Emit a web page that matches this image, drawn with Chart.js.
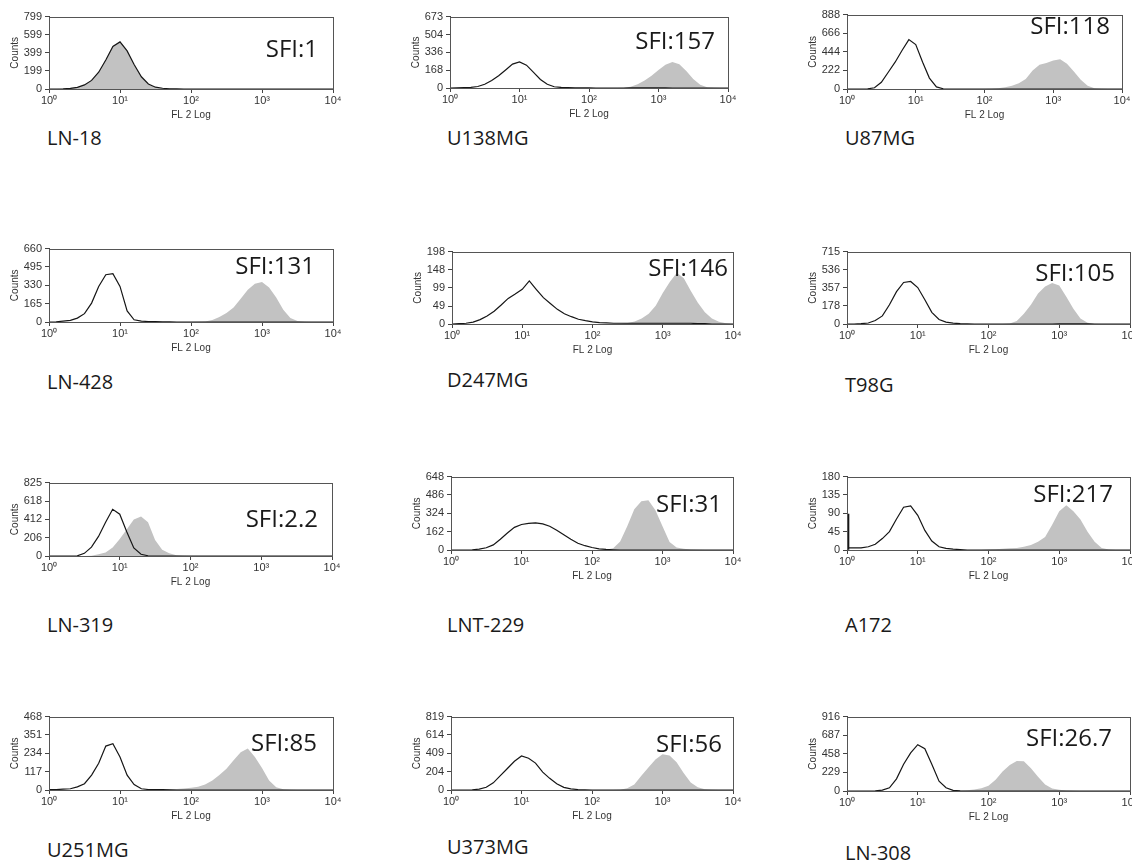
<!DOCTYPE html>
<html>
<head>
<meta charset="utf-8">
<script src="https://cdn.jsdelivr.net/npm/chart.js@4.4.1/dist/chart.umd.min.js"></script>
<style>
    html, body { margin: 0; padding: 0; background: #fff; }
    body { position: relative; width: 1132px; height: 866px; overflow: hidden; }
    canvas { position: absolute; }
    .sfi { position: absolute; font-family: 'Open Sans', sans-serif; font-size: 24px; color: #1a1a1a;
           white-space: nowrap; line-height: 1; transform: translate(-100%, -50%); }
    .cell { position: absolute; font-family: 'Open Sans', sans-serif; font-size: 20px; color: #1a1a1a;
            white-space: nowrap; line-height: 1; transform: translateY(-50%); }
</style>
</head>
<body>
<script>
// FL2 channel bins, 10 per decade, 10^0 .. 10^4
var fl2Bins = [1, 1.26, 1.58, 2, 2.51, 3.16, 3.98, 5.01, 6.31, 7.94,
    10, 12.6, 15.8, 20, 25.1, 31.6, 39.8, 50.1, 63.1, 79.4,
    100, 126, 158, 200, 251, 316, 398, 501, 631, 794,
    1000, 1259, 1585, 1995, 2512, 3162, 3981, 5012, 6310, 7943,
    10000];
var xTickValues = [1, 10, 100, 1000, 10000];
var xTickLabels = ['10⁰', '10¹', '10²', '10³', '10⁴'];

var cellLines = ['LN-18', 'U138MG', 'U87MG', 'LN-428', 'D247MG', 'T98G',
    'LN-319', 'LNT-229', 'A172', 'U251MG', 'U373MG', 'LN-308'];
var sfiLabels = ['SFI:1', 'SFI:157', 'SFI:118', 'SFI:131', 'SFI:146', 'SFI:105',
    'SFI:2.2', 'SFI:31', 'SFI:217', 'SFI:85', 'SFI:56', 'SFI:26.7'];
var yMaxValues = [799, 673, 888, 660, 198, 715, 825, 648, 180, 468, 819, 916];
var yTickValues = [
    [0, 199, 399, 599, 799], [0, 168, 336, 504, 673], [0, 222, 444, 666, 888],
    [0, 165, 330, 495, 660], [0, 49, 99, 148, 198], [0, 178, 357, 536, 715],
    [0, 206, 412, 618, 825], [0, 162, 324, 486, 648], [0, 45, 90, 135, 180],
    [0, 117, 234, 351, 468], [0, 204, 409, 614, 819], [0, 229, 458, 687, 916]
];
// events piled up in the very first channel (control tube)
var firstChannelCounts = [0, 0, 0, 0, 0, 0, 0, 0, 88, 0, 0, 0];

// counts per bin: control (open line) and stained (grey fill)
var ln18Control = [0,0,2,6,18,45,95,185,320,470, 520,420,270,135,55,20,8,3,1,0, 0,0,0,0,0,0,0,0,0,0, 0,0,0,0,0,0,0,0,0,0, 0];
var ln18Stained = [0,0,2,7,20,48,98,190,325,475, 525,425,268,132,52,18,7,3,1,0, 0,0,0,0,0,0,0,0,0,0, 0,0,0,0,0,0,0,0,0,0, 0];
var u138Control = [0,1,3,6,14,35,70,115,170,225, 245,215,150,80,35,12,5,3,2,1, 1,0,0,0,0,0,1,2,2,2, 2,1,0,0,0,0,0,0,0,0, 0];
var u138Stained = [0,0,0,0,0,0,0,0,0,0, 0,0,0,0,0,0,0,0,0,0, 0,0,0,0,0,3,12,35,70,115, 170,220,245,225,160,85,30,8,2,0, 0];
var u87Control = [0,0,0,2,15,80,200,320,460,590, 530,320,130,25,3,0,0,0,0,0, 0,0,0,0,0,0,0,0,0,0, 0,0,0,0,0,0,0,0,0,0, 0];
var u87Stained = [0,0,0,0,0,0,0,0,0,0, 0,0,0,0,0,0,0,0,0,0, 1,3,8,20,40,70,120,220,290,310, 340,355,300,210,110,40,10,2,0,0, 0];
var ln428Control = [0,2,8,15,35,75,170,320,425,435, 320,100,20,8,4,3,2,1,0,0, 0,0,0,0,0,0,0,0,0,0, 0,0,0,0,0,0,0,0,0,0, 0];
var ln428Stained = [0,0,0,0,0,0,0,0,0,0, 0,0,0,0,0,0,0,0,0,0, 0,2,5,18,45,80,130,210,290,345, 360,310,220,110,35,8,2,0,0,0, 0];
var d247Control = [0,1,2,5,12,22,35,52,70,82, 95,118,95,72,56,40,28,20,13,9, 6,4,3,2,2,2,2,2,2,2, 2,2,2,2,2,1,1,0,0,0, 0];
var d247Stained = [0,0,0,0,0,0,0,0,0,0, 0,0,0,0,0,0,0,0,0,0, 0,0,0,0,1,3,7,15,28,50, 85,115,140,125,90,58,32,15,6,2, 0];
var t98Control = [0,0,3,10,35,80,190,320,410,420, 360,240,115,45,18,8,3,1,0,0, 0,0,0,0,0,0,0,0,0,0, 2,2,2,2,1,0,0,0,0,0, 0];
var t98Stained = [0,0,0,0,0,0,0,0,0,0, 0,0,0,0,0,0,0,0,0,0, 0,0,0,5,30,100,190,300,370,405, 380,270,150,55,12,3,0,0,0,0, 0];
var ln319Control = [0,0,0,0,2,30,100,220,380,525, 470,270,90,20,3,0,0,0,0,0, 0,0,0,0,0,0,0,0,0,0, 0,0,0,0,0,0,0,0,0,0, 0];
var ln319Stained = [0,0,0,0,0,0,3,20,40,95, 190,300,410,445,380,180,70,30,8,2, 0,0,0,0,0,0,0,0,0,0, 0,0,0,0,0,0,0,0,0,0, 0];
var lnt229Control = [0,0,0,2,8,20,45,95,150,200, 225,235,240,230,210,175,135,95,60,38, 22,10,5,2,0,0,0,0,0,0, 0,0,0,0,0,0,0,0,0,0, 0];
var lnt229Stained = [0,0,0,0,0,0,0,0,0,0, 0,0,0,0,0,0,0,0,0,0, 0,0,2,15,75,210,360,430,440,350, 210,70,22,12,5,2,0,0,0,0, 0];
var a172Control = [5,5,5,8,14,28,45,76,105,108, 85,48,22,8,4,2,1,0,0,0, 0,0,0,0,0,0,0,0,0,0, 0,0,0,0,0,0,0,0,0,0, 0];
var a172Stained = [0,0,0,0,0,0,0,0,0,0, 0,0,0,0,0,0,0,0,0,0, 1,2,3,4,5,8,12,20,32,62, 95,110,95,75,45,20,5,1,0,0, 0];
var u251Control = [3,3,5,8,20,40,95,170,280,295, 210,95,35,8,3,2,2,1,0,0, 0,0,0,0,0,0,0,0,0,0, 0,0,0,0,0,0,0,0,0,0, 0];
var u251Stained = [0,0,0,0,0,0,0,0,0,0, 0,0,0,0,0,1,2,4,6,9, 14,20,35,60,95,135,190,240,265,210, 140,60,18,5,1,0,0,0,0,0, 0];
var u373Control = [0,0,0,2,10,30,80,160,240,320, 380,355,300,200,130,70,30,12,5,2, 0,0,0,0,0,0,0,0,0,0, 0,0,0,0,0,0,0,0,0,0, 0];
var u373Stained = [0,0,0,0,0,0,0,0,0,0, 0,0,0,0,0,0,0,0,0,0, 0,0,0,0,3,20,60,160,250,340, 400,385,310,190,85,30,8,2,0,0, 0];
var ln308Control = [0,0,0,0,2,10,40,150,330,470, 570,520,330,120,40,8,2,0,0,0, 0,0,0,0,0,0,0,0,0,0, 0,0,0,0,0,0,0,0,0,0, 0];
var ln308Stained = [0,0,0,0,0,0,0,0,0,0, 0,0,0,0,0,2,5,10,18,35, 65,140,240,320,370,365,280,175,80,30, 15,5,2,0,0,0,0,0,0,0, 0];

var controlSeries = [ln18Control, u138Control, u87Control, ln428Control, d247Control, t98Control,
    ln319Control, lnt229Control, a172Control, u251Control, u373Control, ln308Control];
var stainedSeries = [ln18Stained, u138Stained, u87Stained, ln428Stained, d247Stained, t98Stained,
    ln319Stained, lnt229Stained, a172Stained, u251Stained, u373Stained, ln308Stained];

// layout: plot area [left, top, right, bottom] in page pixels
var plotBoxes = [
    [49, 15, 333, 89], [450, 15, 728, 88], [847, 13, 1122, 89],
    [49, 247, 333, 322], [452, 250, 733, 324], [847, 250, 1130, 324],
    [49, 481, 332, 556], [451, 475, 733, 550], [847, 475, 1130, 550],
    [49, 715, 333, 790], [451, 715, 733, 790], [847, 715, 1130, 791]
];
// SFI text: [right, centerY]; cell line text: [left, centerY]
var sfiSpots = [
    [318, 48], [715, 40], [1110, 25],
    [315, 265], [728, 267], [1115, 272],
    [318, 518], [722, 503], [1113, 493],
    [317, 742], [722, 743], [1112, 737]
];
var labelSpots = [
    [47, 138], [447, 138], [845, 138],
    [47, 382], [447, 380], [845, 385],
    [47, 625], [447, 625], [845, 625],
    [47, 850], [447, 847], [845, 853]
];

var AXIS_W = 40, AXIS_H = 32, PAD_T = 8, PAD_R = 12;
var tickFont = { family: "'Liberation Sans', Arial, sans-serif", size: 11 };
var axisColor = '#444';

var frameBox = {
    id: 'frameBox',
    afterDraw: function(chart) {
        var a = chart.chartArea, ctx = chart.ctx;
        ctx.save();
        ctx.strokeStyle = '#555';
        ctx.lineWidth = 1;
        ctx.strokeRect(Math.round(a.left) + 0.5, Math.round(a.top) + 0.5,
            Math.round(a.right - a.left), Math.round(a.bottom - a.top));
        ctx.restore();
    }
};

function toPoints(counts) {
    return fl2Bins.map(function(x, k) { return { x: x, y: counts[k] }; });
}

plotBoxes.forEach(function(box, i) {
    var w = AXIS_W + (box[2] - box[0]) + PAD_R;
    var h = PAD_T + (box[3] - box[1]) + AXIS_H;
    var canvas = document.createElement('canvas');
    canvas.width = w;
    canvas.height = h;
    canvas.style.left = (box[0] - AXIS_W) + 'px';
    canvas.style.top = (box[1] - PAD_T) + 'px';
    canvas.style.width = w + 'px';
    canvas.style.height = h + 'px';
    document.body.appendChild(canvas);

    var datasets = [
        {
            data: toPoints(stainedSeries[i]),
            fill: 'origin',
            backgroundColor: '#c2c2c2',
            borderWidth: 0,
            pointRadius: 0,
            tension: 0,
            order: 2
        },
        {
            data: toPoints(controlSeries[i]),
            fill: false,
            borderColor: '#161616',
            borderWidth: 1.2,
            pointRadius: 0,
            tension: 0,
            order: 1
        }
    ];
    if (firstChannelCounts[i] > 0) {
        datasets.push({
            type: 'bar',
            data: [{ x: fl2Bins[0], y: firstChannelCounts[i] }],
            backgroundColor: '#161616',
            barThickness: 4,
            order: 0
        });
    }

    new Chart(canvas, {
        type: 'line',
        data: { datasets: datasets },
        options: {
            responsive: false,
            animation: false,
            events: [],
            layout: { padding: { top: PAD_T, right: PAD_R, left: 0, bottom: 0 } },
            plugins: { legend: { display: false }, tooltip: { enabled: false } },
            scales: {
                x: {
                    type: 'logarithmic',
                    min: 1,
                    max: 10000,
                    offset: false,
                    afterBuildTicks: function(s) {
                        s.ticks = xTickValues.map(function(v) { return { value: v }; });
                    },
                    afterFit: function(s) { s.height = AXIS_H; },
                    ticks: {
                        autoSkip: false, maxRotation: 0, minRotation: 0, padding: 1,
                        font: tickFont, color: '#333',
                        callback: function(v) { return xTickLabels[xTickValues.indexOf(v)]; }
                    },
                    grid: { drawOnChartArea: false, drawTicks: true, tickLength: 4, color: axisColor, offset: false },
                    border: { display: true, color: axisColor },
                    title: { display: true, text: 'FL 2 Log', padding: 0, color: '#333',
                             font: { family: tickFont.family, size: 10 } }
                },
                y: {
                    min: 0,
                    max: yMaxValues[i],
                    afterBuildTicks: function(s) {
                        s.ticks = yTickValues[i].map(function(v) { return { value: v }; });
                    },
                    afterFit: function(s) { s.width = AXIS_W; },
                    ticks: {
                        autoSkip: false, padding: 3, font: tickFont, color: '#333',
                        callback: function(v) { return String(v); }
                    },
                    grid: { drawOnChartArea: false, drawTicks: true, tickLength: 4, color: axisColor },
                    border: { display: true, color: axisColor },
                    title: { display: true, text: 'Counts', padding: { top: 0, bottom: 0 }, color: '#333',
                             font: { family: tickFont.family, size: 10 } }
                }
            }
        },
        plugins: [frameBox]
    });

    var sfi = document.createElement('div');
    sfi.className = 'sfi';
    sfi.textContent = sfiLabels[i];
    sfi.style.left = sfiSpots[i][0] + 'px';
    sfi.style.top = sfiSpots[i][1] + 'px';
    document.body.appendChild(sfi);

    var cell = document.createElement('div');
    cell.className = 'cell';
    cell.textContent = cellLines[i];
    cell.style.left = labelSpots[i][0] + 'px';
    cell.style.top = labelSpots[i][1] + 'px';
    document.body.appendChild(cell);
});
</script>
</body>
</html>
